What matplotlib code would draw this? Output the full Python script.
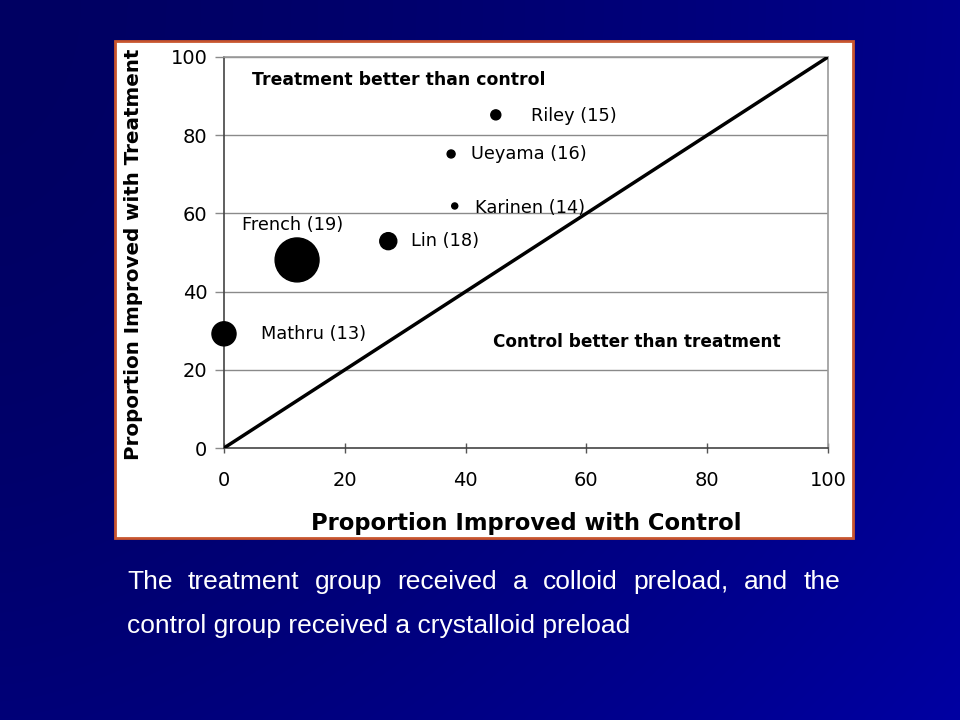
import numpy as np
import matplotlib
matplotlib.use("Agg")
import matplotlib.pyplot as plt
from matplotlib.patches import Rectangle

# ---- data ----
studies = ["Riley (15)", "Ueyama (16)", "Karinen (14)", "Lin (18)", "French (19)", "Mathru (13)"]
control = [45.0, 37.6, 38.2, 27.2, 12.1, 0.0]
treatment = [85.2, 75.2, 61.9, 52.9, 48.1, 29.2]
weights = [52, 33, 19, 150, 1000, 300]
ticks = [0, 20, 40, 60, 80, 100]
caption1 = "The treatment group received a colloid preload, and the"
caption2 = "control group received a crystalloid preload"

plt.rcParams['font.family'] = ['DejaVu Sans']

W, H = 960, 720
fig = plt.figure(figsize=(9.6, 7.2), dpi=100)

# background gradient
bg = fig.add_axes([0, 0, 1, 1])
xx, yy = np.meshgrid(np.linspace(0, 1, 240), np.linspace(0, 1, 180))
v = (98 + 42 * xx ** 1.5 + 22 * yy ** 2) / 255.0
img = np.zeros(v.shape + (3,))
img[..., 2] = v
bg.imshow(img, extent=[0, W, H, 0], aspect='auto', interpolation='bilinear')
bg.set_xlim(0, W)
bg.set_ylim(H, 0)
bg.axis('off')

# white box with orange border
bg.add_patch(Rectangle((115, 41), 738, 497, facecolor='white', edgecolor='#c8552e', linewidth=2, zorder=2))

# chart axes
ax = fig.add_axes([224 / W, 1 - 448 / H, (828 - 224) / W, (448 - 57) / H])
ax.set_xlim(0, 100)
ax.set_ylim(0, 100)
ax.patch.set_alpha(0)
for yv in ticks[1:]:
    ax.axhline(yv, color='#8a8a8a', linewidth=1.0, zorder=1)
ax.plot([0, 100], [0, 100], color='black', linewidth=2.5, zorder=3)
ax.scatter(control, treatment, s=weights, color='black', zorder=4, clip_on=False)

label_pos = [(50.9, 85.0), (40.9, 75.3), (41.6, 61.3), (30.9, 53.0), (3.0, 57.0), (6.1, 29.2)]
for name, (lx, ly) in zip(studies, label_pos):
    ax.text(lx, ly, name, fontsize=12.8, va='center', ha='left', zorder=5)

ax.text(4.6, 94, "Treatment better than control", fontsize=12.4, fontweight='bold', va='center', ha='left')
ax.text(44.5, 27, "Control better than treatment", fontsize=12.2, fontweight='bold', va='center', ha='left')

ax.set_xticks(ticks)
ax.set_yticks(ticks)
ax.set_xticklabels([str(t) for t in ticks], fontsize=14)
ax.set_yticklabels([str(t) for t in ticks], fontsize=14)
ax.tick_params(axis='x', direction='inout', length=7, width=1, color='#555555', pad=13)
ax.tick_params(axis='y', direction='out', length=6.5, width=1, color='#8a8a8a', pad=5.5)
for side in ['left', 'bottom']:
    ax.spines[side].set_color('#444444')
    ax.spines[side].set_linewidth(1.2)
for side in ['right', 'top']:
    ax.spines[side].set_color('#9a9a9a')
    ax.spines[side].set_linewidth(1.2)

ax.set_xlabel("Proportion Improved with Control", fontsize=16.3, fontweight='bold')
ax.set_ylabel("Proportion Improved with Treatment", fontsize=14.3, fontweight='bold')
ax.xaxis.set_label_coords(0.5, -0.164)
ax.yaxis.set_label_coords(-0.134, 0.496)

# caption, line 1 justified between x=127 and x=840
fig.canvas.draw()
renderer = fig.canvas.get_renderer()
words = caption1.split(" ")
fs = 19
cap_font = ['Liberation Sans', 'DejaVu Sans']
tobjs = []
widths = []
for w in words:
    t = bg.text(0, 582, w, fontsize=fs, color='white', va='center', ha='left', zorder=5, family=cap_font)
    bb = t.get_window_extent(renderer=renderer)
    widths.append(bb.width)
    tobjs.append(t)
x0, x1 = 127, 840
gap = (x1 - x0 - sum(widths)) / (len(words) - 1)
x = x0
for t, wdt in zip(tobjs, widths):
    t.set_x(x)
    x += wdt + gap
bg.text(127, 626, caption2, fontsize=fs, color='white', va='center', ha='left', zorder=5, family=cap_font)

fig.savefig("out.png", dpi=100)
